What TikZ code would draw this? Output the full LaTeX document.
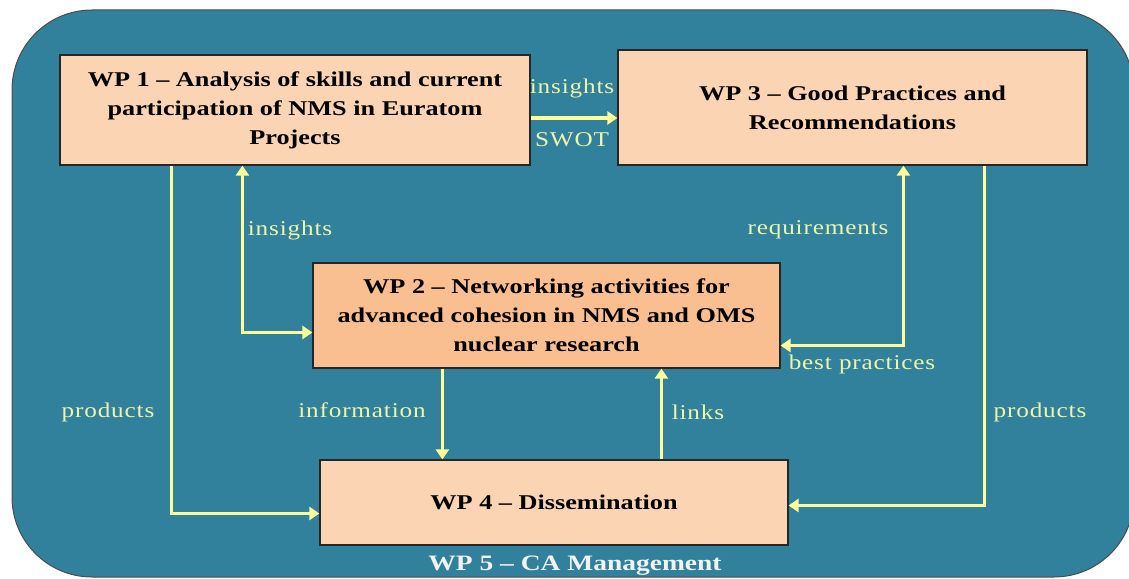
\documentclass[tikz,border=0pt]{standalone}
\usepackage{fontspec}
\setmainfont{Liberation Serif}
\newfontfamily\wpfont[FakeStretch=1.25]{Liberation Serif}
\newfontfamily\tagfont[FakeStretch=1.2,LetterSpace=4]{Liberation Serif}
\usetikzlibrary{positioning,arrows.meta,calc}
\definecolor{caback}{HTML}{31809C}
\definecolor{wplight}{HTML}{FBD4B4}
\definecolor{wpdark}{HTML}{F9BF90}
\definecolor{flowyellow}{HTML}{FFFF99}
\definecolor{tagyellow}{HTML}{EEF5A8}

\begin{document}
\begin{tikzpicture}[
            x=1pt, y=-1pt,
            % work package boxes
            wpbox/.style={
                draw=black!85,
                line width=1.2pt,
                fill=wplight,
                align=center,
                text=black,
                font=\wpfont\bfseries\fontsize{21}{29}\selectfont
            },
            % yellow connectors
            flow/.style={
                draw=flowyellow,
                line width=3.8pt,
                -{Triangle[width=13pt,length=10pt]}
            },
            both/.style={
                flow,
                {Triangle[width=13pt,length=10pt]}-{Triangle[width=13pt,length=10pt]}
            },
            % connector labels
            tag/.style={
                text=tagyellow,
                inner sep=0pt,
                font=\tagfont\fontsize{21}{24}\selectfont
            }
        ]
            \useasboundingbox (0,0) rectangle (1129,578);

            % WP 5: THE FRAME ROUND EVERYTHING
            \draw[fill=caback, draw=black!70, line width=1pt, rounded corners=80pt]
                (12,10) rectangle (1134,577);

            % WORK PACKAGES
            \node[wpbox, minimum width=470pt, minimum height=110pt] (wpone) at (295,110)
                {WP 1 – Analysis of skills and current\\participation of NMS in Euratom\\Projects};
            \node[wpbox, minimum width=469pt, minimum height=115pt] (wpthree) at (852.5,107.5)
                {WP 3 – Good Practices and\\Recommendations};
            \node[wpbox, fill=wpdark, minimum width=467pt, minimum height=105pt] (wptwo) at (546.5,315.5)
                {WP 2 – Networking activities for\\advanced cohesion in NMS and OMS\\nuclear research};
            \node[wpbox, minimum width=468pt, minimum height=85pt] (wpfour) at (554,502.5)
                {WP 4 – Dissemination};
            \node[font=\wpfont\bfseries\fontsize{22}{24}\selectfont, text=white!95!black] (wpfive) at (575,566)
                {WP 5 – CA Management};

            % CONNECTORS
            \draw[flow] ([yshift=-8pt]wpone.east) -- ([yshift=-8pt]wpone.east -| wpthree.west);
            \draw[flow] ([xshift=112pt]wpone.south west) |- ([yshift=-11pt]wpfour.west);
            \draw[both] ([xshift=183pt]wpone.south west) |- ([yshift=-17pt]wptwo.west);
            \coordinate (infotop) at ([xshift=130pt]wptwo.south west);
            \draw[flow] (infotop) -- (infotop |- wpfour.north);
            \coordinate (linksfoot) at ([xshift=342pt]wpfour.north west);
            \draw[flow] (linksfoot) -- (linksfoot |- wptwo.south);
            \draw[both] ([yshift=-30pt]wptwo.east) -| ([xshift=286pt]wpthree.south west);
            \draw[flow] ([xshift=367pt]wpthree.south west) |- ([yshift=-3pt]wpfour.east);

            % LABELS
            \node[tag] (tinsone) at (572,88) {insights};
            \node[tag] (tswot) at (572,140) {SWOT};
            \node[tag] (tinstwo) at (290,230) {insights};
            \node[tag] (treq) at (818,230) {requirements};
            \node[tag] (tbest) at (862,364) {best practices};
            \node[tag] (tprodl) at (108,412) {products};
            \node[tag] (tinfo) at (362,410) {information};
            \node[tag] (tlinks) at (698,412) {links};
            \node[tag] (tprodr) at (1040,412) {products};

        \end{tikzpicture}
\end{document}
